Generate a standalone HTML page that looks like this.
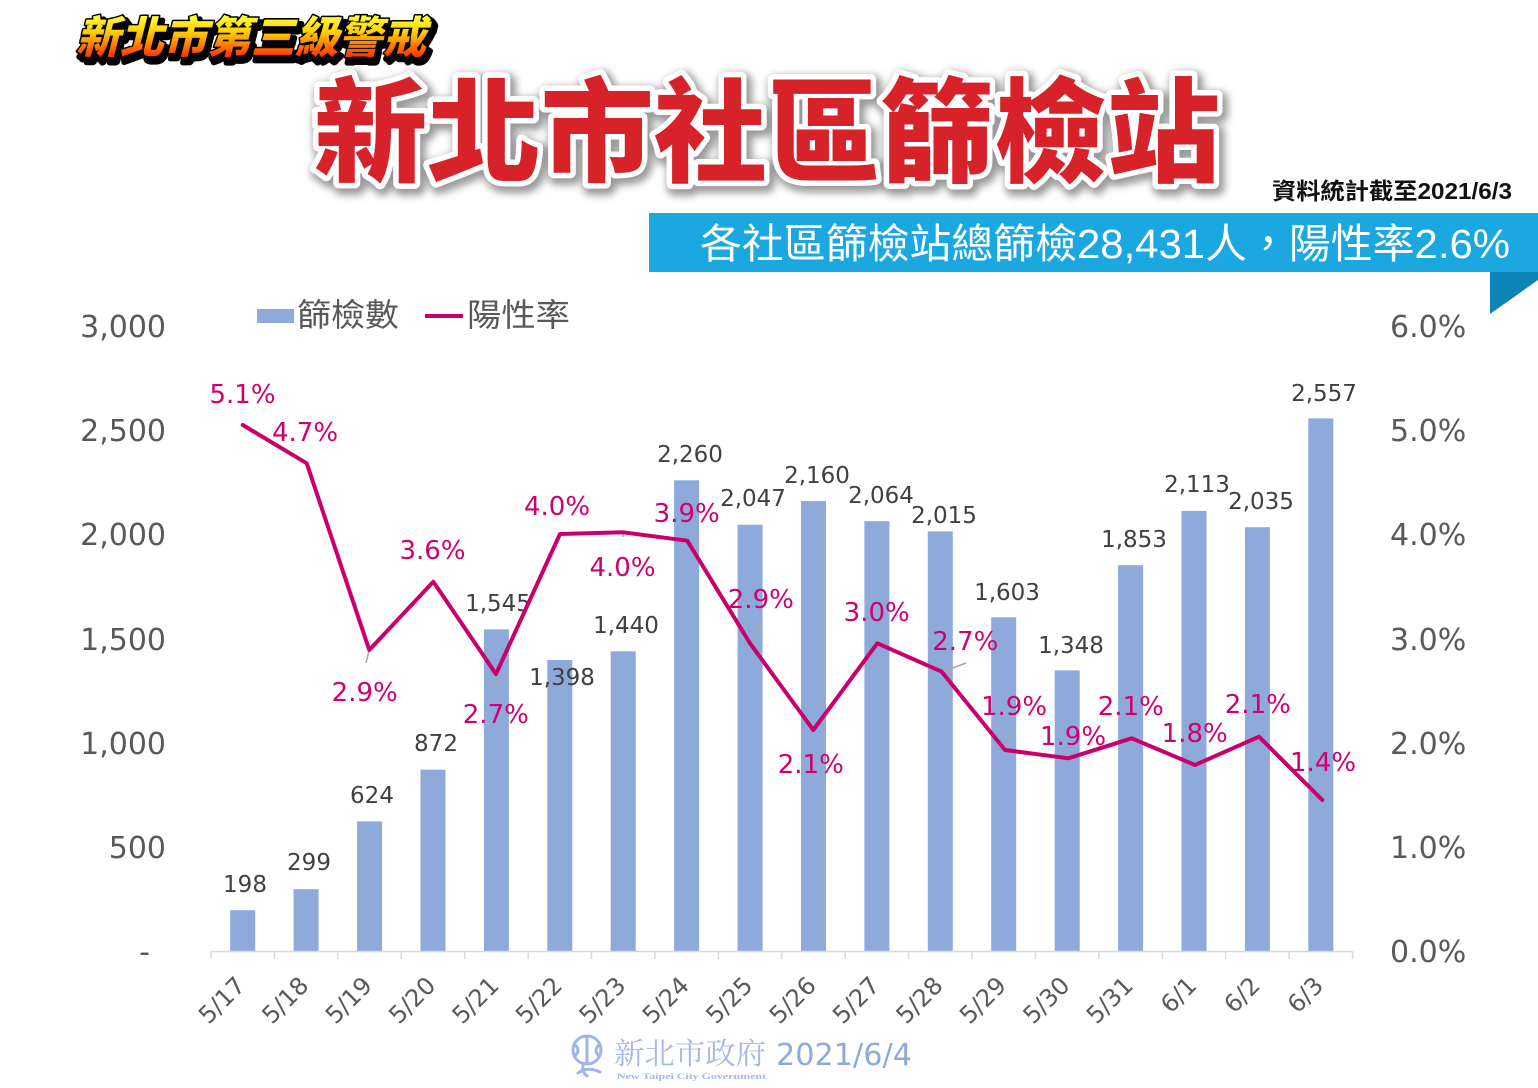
<!DOCTYPE html>
<html><head><meta charset="utf-8"><style>
html,body{margin:0;padding:0;background:#fff;}
svg{display:block;}
</style></head><body>
<svg xmlns="http://www.w3.org/2000/svg" width="1538" height="1088" viewBox="0 0 1538 1088">
<defs>
<linearGradient id="yg" x1="0" y1="-38" x2="0" y2="4" gradientUnits="userSpaceOnUse">
<stop offset="0" stop-color="#ffff40"/><stop offset="0.4" stop-color="#ffd000"/><stop offset="1" stop-color="#ff3000"/>
</linearGradient>
<filter id="blur" x="-10%" y="-30%" width="120%" height="160%"><feGaussianBlur stdDeviation="4"/></filter>
</defs>
<rect width="1538" height="1088" fill="#fff"/>

<!-- top-left title -->
<g font-family="'Liberation Sans','Noto Sans CJK TC',sans-serif" font-weight="900" font-size="44">
<g transform="translate(76,53) skewX(-14)">
<text x="4" y="5" fill="#000" stroke="#000" stroke-width="7" stroke-linejoin="round" textLength="350" lengthAdjust="spacingAndGlyphs">新北市第三級警戒</text>
<text x="0" y="0" fill="url(#yg)" stroke="#000" stroke-width="3" stroke-linejoin="round" paint-order="stroke" textLength="350" lengthAdjust="spacingAndGlyphs">新北市第三級警戒</text>
</g>
</g>

<!-- main title -->
<g font-family="'Liberation Sans','Noto Sans CJK TC',sans-serif" font-weight="900" font-size="113">
<text x="317" y="177" fill="#999" stroke="#999" stroke-width="16" stroke-linejoin="round" filter="url(#blur)" textLength="906" lengthAdjust="spacingAndGlyphs">新北市社區篩檢站</text>
<text x="314" y="173" fill="#d7222a" stroke="#fff" stroke-width="11" stroke-linejoin="round" paint-order="stroke" textLength="906" lengthAdjust="spacingAndGlyphs">新北市社區篩檢站</text>
</g>

<!-- date note -->
<text x="1272" y="199" font-family="'Liberation Sans','Noto Sans CJK TC',sans-serif" font-weight="700" font-size="23" fill="#111" textLength="240" lengthAdjust="spacingAndGlyphs">資料統計截至2021/6/3</text>

<!-- banner -->
<rect x="649" y="213" width="889" height="59" fill="#1ba7df"/>
<polygon points="1490,272 1538,272 1538,280 1490,314" fill="#0e83b6"/>
<text x="700" y="258" font-family="'Liberation Sans','Noto Sans CJK TC',sans-serif" font-size="41" fill="#fff" textLength="810" lengthAdjust="spacingAndGlyphs">各社區篩檢站總篩檢28,431人，陽性率2.6%</text>

<!-- legend -->
<rect x="257" y="309" width="37" height="14" fill="#8eaadb"/>
<text x="297" y="326" font-family="'Liberation Sans','Noto Sans CJK TC',sans-serif" font-size="32" fill="#595959" textLength="102" lengthAdjust="spacingAndGlyphs">篩檢數</text>
<line x1="425" y1="316" x2="463" y2="316" stroke="#c9006b" stroke-width="4"/>
<text x="467" y="326" font-family="'Liberation Sans','Noto Sans CJK TC',sans-serif" font-size="32" fill="#595959" textLength="103" lengthAdjust="spacingAndGlyphs">陽性率</text>

<!-- left axis labels -->
<g font-family="'DejaVu Sans',sans-serif" font-size="30" fill="#595959" text-anchor="end">
<text x="166" y="337">3,000</text>
<text x="166" y="441">2,500</text>
<text x="166" y="545">2,000</text>
<text x="166" y="650">1,500</text>
<text x="166" y="754">1,000</text>
<text x="166" y="858">500</text>
<text x="150" y="962">-</text>
</g>
<!-- right axis labels -->
<g font-family="'DejaVu Sans',sans-serif" font-size="30" fill="#595959">
<text x="1390" y="337">6.0%</text>
<text x="1390" y="441">5.0%</text>
<text x="1390" y="545">4.0%</text>
<text x="1390" y="650">3.0%</text>
<text x="1390" y="754">2.0%</text>
<text x="1390" y="858">1.0%</text>
<text x="1390" y="962">0.0%</text>
</g>

<!-- bars -->
<g fill="#8eaadb">
<rect x="230.2" y="910.2" width="25" height="41.3"/>
<rect x="293.6" y="889.2" width="25" height="62.3"/>
<rect x="357.1" y="821.4" width="25" height="130.1"/>
<rect x="420.5" y="769.7" width="25" height="181.8"/>
<rect x="483.9" y="629.4" width="25" height="322.1"/>
<rect x="547.3" y="660.0" width="25" height="291.5"/>
<rect x="610.7" y="651.3" width="25" height="300.2"/>
<rect x="674.1" y="480.3" width="25" height="471.2"/>
<rect x="737.6" y="524.7" width="25" height="426.8"/>
<rect x="801.0" y="501.1" width="25" height="450.4"/>
<rect x="864.4" y="521.2" width="25" height="430.3"/>
<rect x="927.8" y="531.4" width="25" height="420.1"/>
<rect x="991.2" y="617.3" width="25" height="334.2"/>
<rect x="1054.7" y="670.4" width="25" height="281.1"/>
<rect x="1118.1" y="565.2" width="25" height="386.3"/>
<rect x="1181.5" y="510.9" width="25" height="440.6"/>
<rect x="1244.9" y="527.2" width="25" height="424.3"/>
<rect x="1308.3" y="418.4" width="25" height="533.1"/>
</g>

<!-- x axis -->
<g stroke="#d9d9d9" stroke-width="1.5">
<line x1="211" y1="951.5" x2="1352.6" y2="951.5"/>
<line x1="211" y1="951.5" x2="211" y2="959"/>
<line x1="274.4" y1="951.5" x2="274.4" y2="959"/>
<line x1="337.8" y1="951.5" x2="337.8" y2="959"/>
<line x1="401.3" y1="951.5" x2="401.3" y2="959"/>
<line x1="464.7" y1="951.5" x2="464.7" y2="959"/>
<line x1="528.1" y1="951.5" x2="528.1" y2="959"/>
<line x1="591.5" y1="951.5" x2="591.5" y2="959"/>
<line x1="654.9" y1="951.5" x2="654.9" y2="959"/>
<line x1="718.4" y1="951.5" x2="718.4" y2="959"/>
<line x1="781.8" y1="951.5" x2="781.8" y2="959"/>
<line x1="845.2" y1="951.5" x2="845.2" y2="959"/>
<line x1="908.6" y1="951.5" x2="908.6" y2="959"/>
<line x1="972.0" y1="951.5" x2="972.0" y2="959"/>
<line x1="1035.5" y1="951.5" x2="1035.5" y2="959"/>
<line x1="1098.9" y1="951.5" x2="1098.9" y2="959"/>
<line x1="1162.3" y1="951.5" x2="1162.3" y2="959"/>
<line x1="1225.7" y1="951.5" x2="1225.7" y2="959"/>
<line x1="1289.1" y1="951.5" x2="1289.1" y2="959"/>
<line x1="1352.6" y1="951.5" x2="1352.6" y2="959"/>
</g>

<!-- x labels -->
<g font-family="'DejaVu Sans',sans-serif" font-size="24" fill="#595959" text-anchor="end">
<text transform="translate(246.7,987) rotate(-45)">5/17</text>
<text transform="translate(310.1,987) rotate(-45)">5/18</text>
<text transform="translate(373.6,987) rotate(-45)">5/19</text>
<text transform="translate(437.0,987) rotate(-45)">5/20</text>
<text transform="translate(500.4,987) rotate(-45)">5/21</text>
<text transform="translate(563.8,987) rotate(-45)">5/22</text>
<text transform="translate(627.2,987) rotate(-45)">5/23</text>
<text transform="translate(690.6,987) rotate(-45)">5/24</text>
<text transform="translate(754.1,987) rotate(-45)">5/25</text>
<text transform="translate(817.5,987) rotate(-45)">5/26</text>
<text transform="translate(880.9,987) rotate(-45)">5/27</text>
<text transform="translate(944.3,987) rotate(-45)">5/28</text>
<text transform="translate(1007.7,987) rotate(-45)">5/29</text>
<text transform="translate(1071.2,987) rotate(-45)">5/30</text>
<text transform="translate(1134.6,987) rotate(-45)">5/31</text>
<text transform="translate(1198.0,987) rotate(-45)">6/1</text>
<text transform="translate(1261.4,987) rotate(-45)">6/2</text>
<text transform="translate(1324.8,987) rotate(-45)">6/3</text>
</g>

<!-- bar value labels -->
<g font-family="'DejaVu Sans',sans-serif" font-size="23" fill="#404040" text-anchor="middle">
<text x="245" y="892">198</text>
<text x="309" y="870">299</text>
<text x="372" y="803">624</text>
<text x="436" y="751">872</text>
<text x="498" y="611">1,545</text>
<text x="562" y="685">1,398</text>
<text x="626" y="633">1,440</text>
<text x="690" y="462">2,260</text>
<text x="753" y="506">2,047</text>
<text x="817" y="483">2,160</text>
<text x="881" y="503">2,064</text>
<text x="944" y="523">2,015</text>
<text x="1007" y="600">1,603</text>
<text x="1071" y="653">1,348</text>
<text x="1134" y="547">1,853</text>
<text x="1197" y="492">2,113</text>
<text x="1261" y="509">2,035</text>
<text x="1324" y="401">2,557</text>
</g>

<!-- leader lines -->
<g stroke="#a6a6a6" stroke-width="1.5">
<line x1="369" y1="651" x2="366" y2="663"/>
<line x1="496" y1="675" x2="496" y2="686"/>
<line x1="623" y1="531" x2="623" y2="537"/>
<line x1="751" y1="643" x2="760" y2="620"/>
<line x1="942" y1="672" x2="966" y2="663"/>
<line x1="1005" y1="750" x2="1013" y2="730"/>
<line x1="1322" y1="800" x2="1324" y2="784"/>
</g>

<!-- line series -->
<polyline fill="none" stroke="#c9006b" stroke-width="4" stroke-linejoin="round" stroke-linecap="round"
points="242.7,425 306.7,463.3 369.3,650 433.3,581.7 496,674 560,534 623.3,532.3 687.3,540.7 750,643.3 813.3,730 877.3,643.3 941.7,671.7 1005,750 1068.3,758.3 1131.7,738.3 1195,765 1259,736.7 1322.3,800"/>

<!-- percent labels -->
<g font-family="'DejaVu Sans',sans-serif" font-size="26" fill="#d0006f" text-anchor="middle">
<text x="242.5" y="403">5.1%</text>
<text x="305" y="441">4.7%</text>
<text x="364.7" y="701">2.9%</text>
<text x="432.5" y="559">3.6%</text>
<text x="495.8" y="723">2.7%</text>
<text x="557" y="515">4.0%</text>
<text x="622.5" y="576">4.0%</text>
<text x="686.7" y="522">3.9%</text>
<text x="760.8" y="608">2.9%</text>
<text x="810.8" y="773">2.1%</text>
<text x="876.7" y="621">3.0%</text>
<text x="965.3" y="650">2.7%</text>
<text x="1014" y="715">1.9%</text>
<text x="1073" y="745">1.9%</text>
<text x="1130.8" y="715">2.1%</text>
<text x="1194.7" y="742">1.8%</text>
<text x="1257.8" y="713">2.1%</text>
<text x="1323" y="771">1.4%</text>
</g>

<!-- bottom logo -->
<g fill="none" stroke="#9fb6e6" stroke-width="3" stroke-linecap="round">
<circle cx="587" cy="1050" r="14"/>
<line x1="587" y1="1036" x2="587" y2="1064"/>
<path d="M575,1045 Q581,1050 575,1056"/>
<path d="M599,1045 Q593,1050 599,1056"/>
<path d="M578,1073 Q587,1066 600,1072"/>
<path d="M583,1066 Q582,1072 587,1076"/>
</g>
<text x="614" y="1064" font-family="'Noto Serif CJK SC',serif" font-size="30" fill="#a5b9e6" textLength="152" lengthAdjust="spacingAndGlyphs">新北市政府</text>
<text x="617" y="1079" font-family="'Liberation Serif',serif" font-size="8.5" font-weight="700" fill="#a5b9e6" textLength="149" lengthAdjust="spacingAndGlyphs">New Taipei City Government</text>
<text x="776" y="1065" font-family="'DejaVu Sans',sans-serif" font-size="30" fill="#8eaadb" textLength="136" lengthAdjust="spacingAndGlyphs">2021/6/4</text>
</svg>
</body></html>
